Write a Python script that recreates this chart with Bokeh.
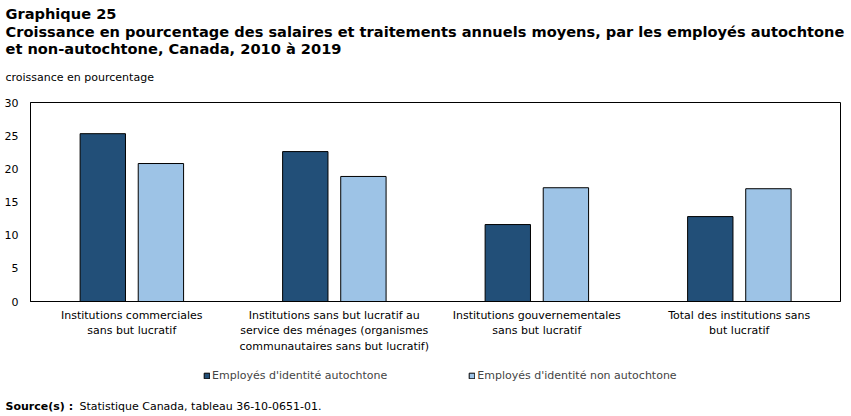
from bokeh.plotting import figure
from bokeh.layouts import column, row
from bokeh.models import FactorRange, Label, Legend, LegendItem, ColumnDataSource
from bokeh.transform import dodge
from bokeh.embed import file_html
from bokeh.resources import INLINE

categories = [
    "Institutions commerciales\nsans but lucratif",
    "Institutions sans but lucratif au\nservice des ménages (organismes\ncommunautaires sans but lucratif)",
    "Institutions gouvernementales\nsans but lucratif",
    "Total des institutions sans\nbut lucratif",
]
autochtone = [25.3, 22.6, 11.6, 12.8]
non_autochtone = [20.8, 18.85, 17.15, 17.0]
y_ticks = [0, 5, 10, 15, 20, 25, 30]
series_names = ["Employés d'identité autochtone", "Employés d'identité non autochtone"]
title_lines = [
    "Graphique 25",
    "Croissance en pourcentage des salaires et traitements annuels moyens, par les employés autochtone",
    "et non-autochtone, Canada, 2010 à 2019",
]
y_axis_title = "croissance en pourcentage"
source_label = "Source(s) :"
source_text = "Statistique Canada, tableau 36-10-0651-01."

DARK = "#224f78"
LIGHT = "#9dc3e6"
FONT = "DejaVu Sans"
W = 851
H_HEAD, H_MAIN, H_FOOT = 92, 263, 61

src = ColumnDataSource(dict(cat=categories, a=autochtone, n=non_autochtone))


def blank(height):
    f = figure(width=W, height=height, x_range=FactorRange(*categories), y_range=(0, 30),
               output_backend="svg", toolbar_location=None,
               x_axis_location=None, y_axis_location=None,
               min_border=0, min_border_left=0, min_border_right=0,
               min_border_top=0, min_border_bottom=0)
    f.grid.visible = False
    f.outline_line_color = None
    f.background_fill_color = "white"
    f.border_fill_color = "white"
    return f


def lab(f, height, text, cx, cy, size="11px", bold=False):
    f.add_layout(Label(text=text, x=cx, y=height - cy, x_units="screen", y_units="screen",
                       text_font=FONT, text_font_size=size,
                       text_font_style="bold" if bold else "normal",
                       text_baseline="middle", text_align="left", text_color="black"))


# ---- header ----
head = blank(H_HEAD)
lab(head, H_HEAD, title_lines[0], 5, 13, "14.6px", True)
lab(head, H_HEAD, title_lines[1], 5, 31, "14.6px", True)
lab(head, H_HEAD, title_lines[2], 5, 48, "14.6px", True)
lab(head, H_HEAD, y_axis_title, 5, 77)

# ---- main chart ----
p = figure(width=W, height=H_MAIN, x_range=FactorRange(*categories), y_range=(0, 30),
           output_backend="svg", toolbar_location=None,
           min_border_left=30, min_border_right=11, min_border_top=10, min_border_bottom=54)
p.background_fill_color = "white"
p.border_fill_color = "white"
p.outline_line_color = "black"
p.outline_line_width = 1
p.xgrid.visible = False
p.ygrid.visible = False

p.vbar(x=dodge("cat", -0.143, range=p.x_range), top="a", width=0.224, source=src,
       fill_color=DARK, line_color="black", line_width=1)
p.vbar(x=dodge("cat", 0.144, range=p.x_range), top="n", width=0.224, source=src,
       fill_color=LIGHT, line_color="black", line_width=1)

for ax in (p.yaxis, p.xaxis):
    ax.major_tick_line_color = None
    ax.minor_tick_line_color = None
    ax.major_tick_out = 0
    ax.major_tick_in = 0
    ax.minor_tick_out = 0
    ax.axis_line_color = "black"
    ax.major_label_text_font = FONT
    ax.major_label_text_font_size = "11px"
    ax.major_label_text_color = "black"

p.yaxis.ticker = y_ticks
p.yaxis.major_label_standoff = 12
p.xaxis.major_label_standoff = 7

# ---- footer: legend + source ----
foot = blank(H_FOOT)
f1 = foot.vbar(x=dodge("cat", -0.143, range=foot.x_range), top="a", width=0.224, source=src,
               fill_color=DARK, line_color="black", visible=False)
f2 = foot.vbar(x=dodge("cat", 0.144, range=foot.x_range), top="n", width=0.224, source=src,
               fill_color=LIGHT, line_color="black", visible=False)
legend = Legend(items=[LegendItem(label=series_names[0], renderers=[f1]),
                       LegendItem(label=series_names[1], renderers=[f2])],
                orientation="horizontal", location=(203, 34),
                glyph_width=7, glyph_height=7, label_standoff=2, spacing=81,
                padding=0, margin=0, border_line_color=None, background_fill_alpha=0,
                label_text_font=FONT, label_text_font_size="11px", label_height=14)
foot.add_layout(legend, "center")
lab(foot, H_FOOT, source_label, 5, 51, bold=True)
lab(foot, H_FOOT, source_text, 79, 51)

layout = column(row(head), p, row(foot), spacing=0)
open("out.html", "w").write(file_html(layout, INLINE))
